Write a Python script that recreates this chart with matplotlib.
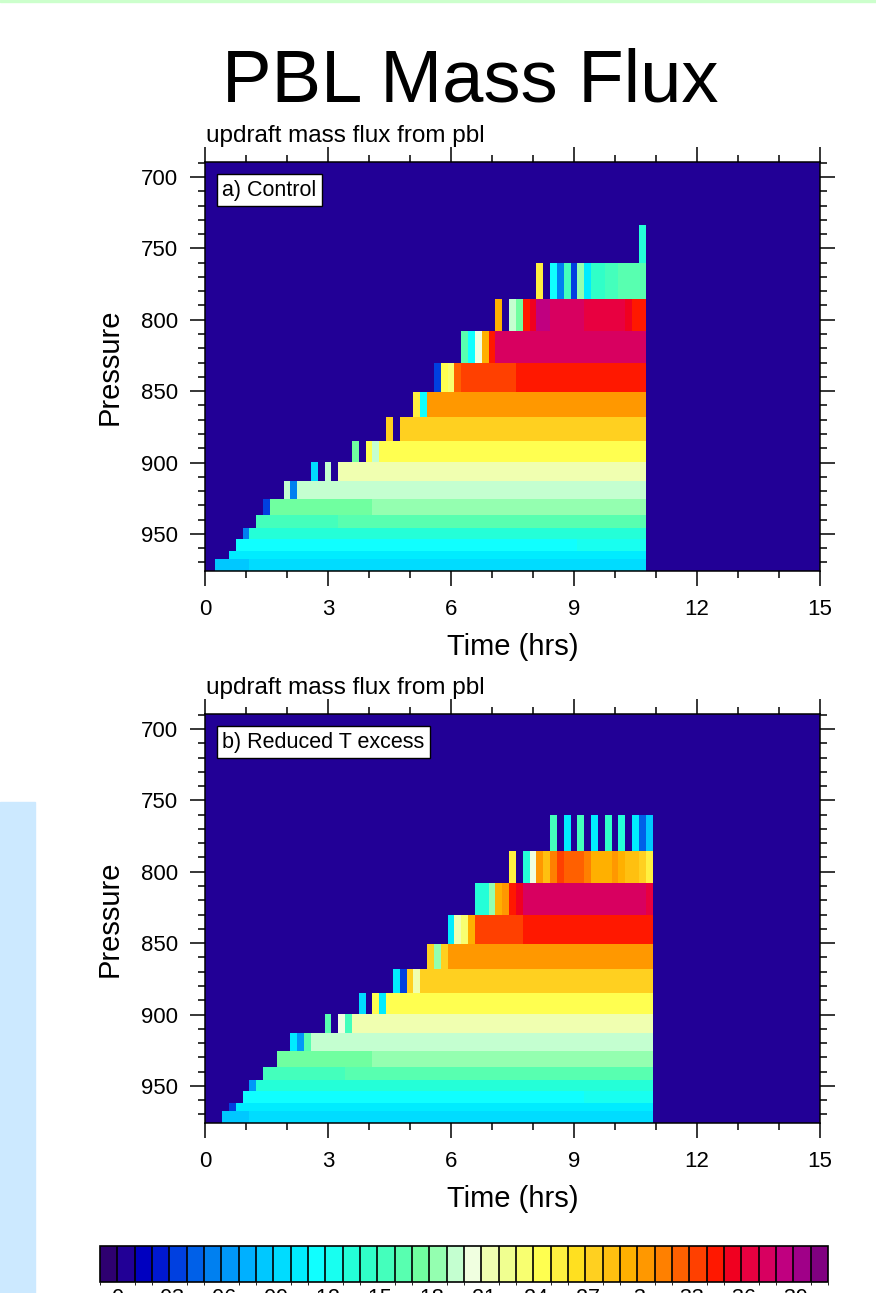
import numpy as np
import matplotlib.pyplot as plt
from matplotlib import colors, cm
from matplotlib.patches import Rectangle
from matplotlib.ticker import MultipleLocator

plt.rcParams['font.family'] = ['Liberation Sans', 'DejaVu Sans']

# layer interfaces (hPa), bottom to top
p_edges = [976.0, 967.7, 961.9, 953.7, 945.6, 936.7, 925.7, 912.9, 899.4,
           884.9, 868.3, 850.3, 830.5, 807.8, 785.6, 760.0, 733.6]
dt = 1.0 / 6.0  # output every 10 min

# each layer: runs of (first output column, updraft mass flux)
control_runs = [
    [(1, .085), (6, .095)],
    [(3, .105)],
    [(4, .115), (54, .125)],
    [(5, .055), (6, .135)],
    [(7, .155), (19, .165)],
    [(8, .035), (9, .175), (24, .185)],
    [(11, .195), (12, .055), (13, .195)],
    [(15, .095), (16, 0), (17, .195), (18, 0), (19, .215)],
    [(21, .175), (22, 0), (23, .245), (24, .195), (25, .245)],
    [(26, .275), (27, 0), (28, .275)],
    [(30, .255), (31, .115), (32, .305)],
    [(33, .035), (34, .245), (35, .235), (36, .325), (37, .335), (45, .345)],
    [(37, .165), (38, .115), (39, .205), (40, .295), (41, .345), (42, .375)],
    [(42, .295), (43, 0), (44, .195), (45, .175), (46, .345), (47, .355),
     (48, .385), (50, .375), (55, .365), (61, .355), (62, .345)],
    [(48, .255), (49, 0), (50, .115), (51, .055), (52, .155), (53, .035),
     (54, .185), (55, .105), (56, .145), (58, .155), (60, .165)],
    [(63, .135)],
]
control_ncol = 64

reduced_runs = [
    [(2, .085), (6, .095)],
    [(3, .035), (4, .105)],
    [(5, .115), (55, .125)],
    [(6, .065), (7, .135)],
    [(8, .155), (20, .165)],
    [(10, .175), (24, .185)],
    [(12, .105), (13, .065), (14, .165), (15, .195)],
    [(17, .165), (18, 0), (19, .205), (20, .155), (21, .215)],
    [(22, .095), (23, 0), (24, .245), (25, .105), (26, .245)],
    [(27, .105), (28, .035), (29, .275), (30, .215), (31, .275)],
    [(32, .275), (33, .185), (34, .275), (35, .305)],
    [(35, .105), (36, .215), (37, .235), (38, .295), (39, .335), (46, .345)],
    [(39, .135), (41, .185), (42, .295), (43, .305), (44, .345), (45, .355),
     (46, .375), (64, .365)],
    [(44, .255), (45, 0), (46, .135), (47, .205), (48, .305), (49, .285),
     (50, .315), (51, .335), (52, .325), (55, .315), (56, .295), (59, .305),
     (60, .295), (61, .285), (63, .275), (64, .255)],
    [(50, .155), (51, 0), (52, .105), (53, 0), (54, .155), (55, 0),
     (56, .105), (57, 0), (58, .145), (59, 0), (60, .135), (61, 0),
     (62, .105), (63, .045), (64, .085)],
    [],
]
reduced_ncol = 65

cmap_colors = [
    '#2e0070', '#220096', '#0000c0', '#0018d0', '#0040e0', '#0060e8',
    '#0080f0', '#0098f8', '#00b0ff', '#00c8ff', '#00dcff', '#00ecff',
    '#10ffff', '#18fff0', '#24ffd8', '#30ffc8', '#44ffbc', '#58ffb0',
    '#70ffa0', '#94ffb0', '#c4ffd0', '#f0ffe0', '#f0ffb0', '#f0ff90',
    '#f8ff70', '#ffff50', '#fff040', '#ffe020', '#ffd020', '#ffc010',
    '#ffb000', '#ff9800', '#ff8000', '#ff6000', '#ff4000', '#ff1800',
    '#f00020', '#e80040', '#d80060', '#c00080', '#a00088', '#800080',
]
levels = np.round(np.arange(-0.01, 0.415, 0.01), 2)
cbar_ticks = [0, .03, .06, .09, .12, .15, .18, .21, .24, .27, .30, .33, .36, .39]
cbar_labels = ['0', '.03', '.06', '.09', '.12', '.15', '.18', '.21', '.24',
               '.27', '.3', '.33', '.36', '.39']

cmap = colors.ListedColormap(cmap_colors)
norm = colors.BoundaryNorm(levels, cmap.N)


def build(runs, ncol):
    z = np.zeros((len(runs), ncol))
    for i, row in enumerate(runs):
        for j, (c, v) in enumerate(row):
            stop = row[j + 1][0] if j + 1 < len(row) else ncol
            z[i, c:stop] = v
    return z


W, H = 876, 1293
fig = plt.figure(figsize=(W / 100, H / 100), dpi=100)

# page decorations
fig.patches.append(Rectangle((0, 1 - 2 / H), 1, 2 / H, transform=fig.transFigure,
                             color='#ccffcc', zorder=0))
fig.patches.append(Rectangle((0, 0), 35 / W, (H - 802) / H, transform=fig.transFigure,
                             color='#cce9ff', zorder=0))

fig.text(470 / W, 1 - 102 / H, 'PBL Mass Flux', fontsize=53.5, ha='center', va='baseline')

panels = [
    (control_runs, control_ncol, 162, 'a) Control'),
    (reduced_runs, reduced_ncol, 714, 'b) Reduced T excess'),
]
for runs, ncol, top, tag in panels:
    ax = fig.add_axes([205 / W, 1 - (top + 409) / H, 615 / W, 409 / H])
    ax.set_facecolor(cmap(norm(0.0)))
    z = build(runs, ncol)
    t_edges = (np.arange(ncol + 1) + 0.5) * dt
    ax.pcolormesh(t_edges, p_edges, z, cmap=cmap, norm=norm)

    ax.set_xlim(0, 15)
    ax.set_ylim(976, 689.5)
    ax.xaxis.set_major_locator(MultipleLocator(3))
    ax.xaxis.set_minor_locator(MultipleLocator(1))
    ax.set_yticks([700, 750, 800, 850, 900, 950])
    ax.set_yticks(np.arange(690, 976, 10), minor=True)
    ax.tick_params(which='both', direction='out', top=True, right=True,
                   width=1.1, labelsize=16)
    ax.tick_params(which='major', length=10.5)
    ax.tick_params(which='minor', length=5)
    ax.tick_params(axis='x', pad=10)
    ax.tick_params(axis='y', pad=9)
    for s in ax.spines.values():
        s.set_linewidth(1.1)

    ax.set_xlabel('Time (hrs)', fontsize=21, labelpad=9)
    ax.set_ylabel('Pressure', fontsize=21, labelpad=12)
    fig.text(206 / W, 1 - (top - 20) / H, 'updraft mass flux from pbl',
             fontsize=17.5, va='baseline')
    ax.text(0.0276, 0.9315, tag, transform=ax.transAxes, fontsize=15.5,
            ha='left', va='center',
            bbox=dict(boxstyle='square,pad=0.25', fc='white', ec='black', lw=1.0))

cax = fig.add_axes([100 / W, 1 - 1282 / H, 728 / W, 36 / H])
cb = fig.colorbar(cm.ScalarMappable(norm=norm, cmap=cmap), cax=cax,
                  orientation='horizontal', ticks=cbar_ticks, drawedges=True)
cb.dividers.set_linewidth(1.2)
cb.outline.set_linewidth(1.2)
cb.set_ticklabels(cbar_labels)
cax.tick_params(length=0, labelsize=15.5, pad=4)

fig.savefig('out.png', dpi=100)
